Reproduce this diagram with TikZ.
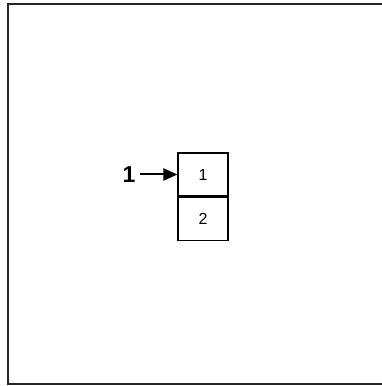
\documentclass[tikz,border=0pt]{standalone}
\usepackage{fontspec}
\setmainfont{Liberation Sans}
\usetikzlibrary{arrows.meta}
\begin{document}
\begin{tikzpicture}[x=1pt,y=1pt,
  cell/.style={draw,line width=1.1pt,minimum width=50pt,minimum height=43pt,inner sep=0pt,font=\fontsize{16}{16}\selectfont},
  lbl/.style={font=\bfseries\fontsize{23}{23}\selectfont,inner sep=0pt},
  frame/.style={line width=1.5pt,color=black!85}]
\useasboundingbox (0,0) rectangle (382,386);
\coordinate (tl) at (8,382);
\coordinate (bl) at (8,2);
\coordinate (tr) at (382,382);
\coordinate (br) at (382,2);
\draw[frame] (tr) -- (tl) -- (bl) -- (br);
\node[cell] (c1) at (203,211.5) {1};
\node[cell,anchor=north] (c2) at (c1.south) {2};
\node[lbl] (l1) at (129,211) {1};
\coordinate (as) at (140,211.5);
\draw[line width=2pt,-{Triangle[length=14pt,width=12pt]}] (as) -- (c1.west);
\end{tikzpicture}
\end{document}
